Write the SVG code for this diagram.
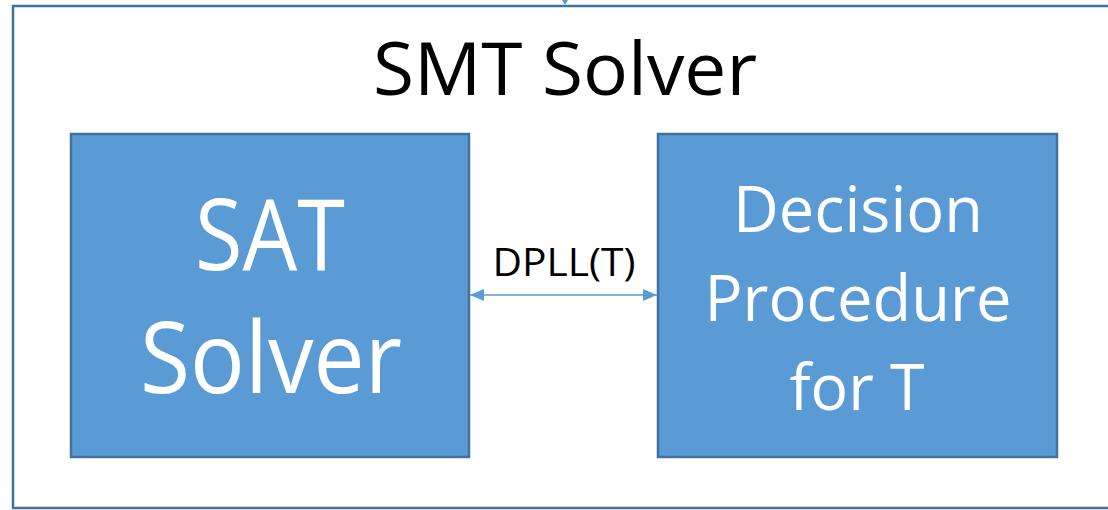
<svg xmlns="http://www.w3.org/2000/svg" width="1108" height="510" viewBox="0 0 1108 510">
  <defs>
    <style>
      .frame { fill: #ffffff; stroke: #41719c; stroke-width: 2.5; }
      .box { fill: #5b9bd5; stroke: #41719c; stroke-width: 2.5; }
      .title { font-family: "Open Sans", "Noto Sans", sans-serif; fill: #000000; }
      .label { font-family: "Open Sans", "Noto Sans", sans-serif; fill: #ffffff; text-anchor: middle; }
      .link { stroke: #5b9bd5; stroke-width: 1.5; fill: none; }
    </style>
    <marker id="head" viewBox="0 0 14 12" refX="14" refY="6" markerWidth="14" markerHeight="12" markerUnits="userSpaceOnUse" orient="auto-start-reverse">
      <path d="M0,0 L14,6 L0,12 Z" fill="#5b9bd5"/>
    </marker>
  </defs>

  <!-- outer container -->
  <g id="smt-solver">
    <rect class="frame" x="13" y="6" width="1110" height="502"/>
    <text class="title" x="565" y="95" font-size="74" text-anchor="middle" textLength="384" lengthAdjust="spacingAndGlyphs">SMT Solver</text>
    <path d="M562,0 L568,0 L565,5 Z" fill="#5b9bd5"/>
  </g>

  <g id="sat-solver">
    <rect class="box" x="71" y="134" width="398" height="323"/>
    <text class="label" x="270" y="270" font-size="98" textLength="150" lengthAdjust="spacingAndGlyphs">SAT</text>
    <text class="label" x="271" y="393" font-size="98" textLength="262" lengthAdjust="spacingAndGlyphs">Solver</text>
  </g>

  <g id="decision-procedure">
    <rect class="box" x="658" y="134" width="399" height="323"/>
    <text class="label" x="858" y="232" font-size="64" textLength="250" lengthAdjust="spacingAndGlyphs">Decision</text>
    <text class="label" x="858" y="321" font-size="64" textLength="307" lengthAdjust="spacingAndGlyphs">Procedure</text>
    <text class="label" x="857" y="410" font-size="64" textLength="135" lengthAdjust="spacingAndGlyphs">for T</text>
  </g>

  <g id="connectors">
    <line class="link" x1="470" y1="295" x2="657" y2="295" marker-start="url(#head)" marker-end="url(#head)"/>
    <text class="title" x="564" y="276" font-size="38" text-anchor="middle" textLength="143" lengthAdjust="spacingAndGlyphs">DPLL(T)</text>
  </g>
</svg>
